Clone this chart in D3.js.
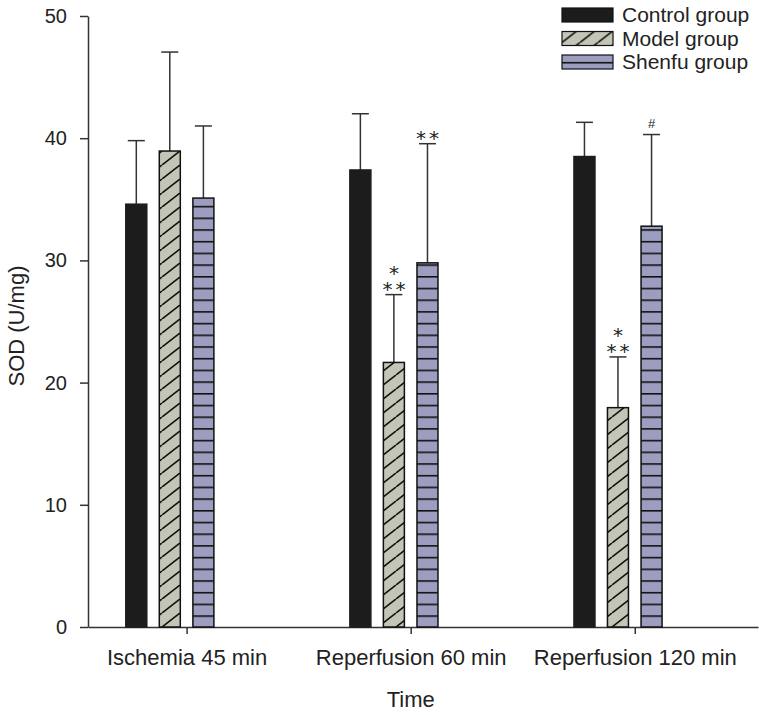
<!DOCTYPE html>
<html lang="en">
<head>
	<meta charset="utf-8">
	<script src="https://cdn.jsdelivr.net/npm/d3@7"></script>
	<style>
		body { margin: 0; background: #fff; }
		text { font-family: "Liberation Sans", Arial, sans-serif; fill: #222; }
	</style>
	<title>SOD bar chart</title>
</head>
<body>
	<script type="text/javascript">
		// data
		var timepoints = ["Ischemia 45 min", "Reperfusion 60 min", "Reperfusion 120 min"];
		var groups = ["Control group", "Model group", "Shenfu group"];
		var controlMean = [34.6, 37.4, 38.5];
		var controlSD = [5.2, 4.6, 2.8];
		var modelMean = [38.95, 21.65, 17.95];
		var modelSD = [8.1, 5.55, 4.15];
		var shenfuMean = [35.1, 29.8, 32.8];
		var shenfuSD = [5.9, 9.75, 7.5];
		var modelMarks = [[], ["*", "**"], ["*", "**"]];
		var shenfuMarks = [[], ["**"], ["#"]];
		var yTicks = [0, 10, 20, 30, 40, 50];

		var width = 759;
		var height = 715;
		// plot edges (don't call these top/left, window.top is read-only)
		var plotLeft = 88, plotRight = 758, plotTop = 16, plotBottom = 627;

		var svg = d3.select("body")
			.append("svg")
			.attr("width", width)
			.attr("height", height);

		// fill patterns
		var defs = svg.append("defs");
		var hw = 18, hh = 14;
		var hatch = defs.append("pattern")
			.attr("id", "hatch")
			.attr("patternUnits", "userSpaceOnUse")
			.attr("width", hw)
			.attr("height", hh)
			.attr("y", plotBottom);
		hatch.append("rect").attr("width", hw).attr("height", hh).attr("fill", "#c3c5b6");
		hatch.append("path")
			.attr("d", "M0," + hh + " L" + hw + ",0 M" + (-hw) + "," + hh + " L0,0 M" + hw + "," + hh + " L" + (2 * hw) + ",0")
			.attr("stroke", "#111")
			.attr("stroke-width", 1.6);

		var stripes = defs.append("pattern")
			.attr("id", "stripes")
			.attr("patternUnits", "userSpaceOnUse")
			.attr("width", 12)
			.attr("height", 11.7)
			.attr("y", plotBottom);
		stripes.append("rect").attr("width", 12).attr("height", 11.7).attr("fill", "#9d9dc0");
		stripes.append("line")
			.attr("x1", 0).attr("x2", 12)
			.attr("y1", 0.8).attr("y2", 0.8)
			.attr("stroke", "#111")
			.attr("stroke-width", 1.6);

		var fills = ["#1c1c1c", "url(#hatch)", "url(#stripes)"];
		var offsets = [-50.3, -16.8, 16.8];
		var barWidth = 21;

		// scales
		var x = d3.scaleLinear()
			.domain([-0.44, 2.55])
			.range([plotLeft, plotRight]);

		var y = d3.scaleLinear()
			.domain([0, 50])
			.range([plotBottom, plotTop]);

		// axes
		var yAxis = svg.append("g")
			.attr("transform", "translate(" + plotLeft + ",0)")
			.call(d3.axisLeft(y).tickValues(yTicks).tickSize(8).tickSizeOuter(0));
		yAxis.select(".domain").attr("stroke", "#333").attr("stroke-width", 1.5);
		yAxis.selectAll(".tick line").attr("stroke", "#333").attr("stroke-width", 1.5);
		yAxis.selectAll(".tick text")
			.attr("x", -21)
			.style("font-size", "20px")
			.style("font-family", "'Liberation Sans', Arial, sans-serif")
			.attr("fill", "#222");

		var xAxis = svg.append("g")
			.attr("transform", "translate(0," + plotBottom + ")")
			.call(d3.axisBottom(x)
				.tickValues([0, 1, 2])
				.tickFormat(function(d) { return timepoints[d]; })
				.tickSize(7)
				.tickSizeOuter(0));
		xAxis.select(".domain").attr("stroke", "#333").attr("stroke-width", 1.5);
		xAxis.selectAll(".tick line").attr("stroke", "#333").attr("stroke-width", 1.5);
		xAxis.selectAll(".tick text")
			.attr("y", 22)
			.style("font-size", "22px")
			.style("font-family", "'Liberation Sans', Arial, sans-serif")
			.attr("fill", "#222");

		// axis titles
		svg.append("text")
			.attr("x", x(1))
			.attr("y", 707)
			.attr("text-anchor", "middle")
			.style("font-size", "22px")
			.text("Time");

		svg.append("text")
			.attr("transform", "translate(24," + 326 + ") rotate(-90)")
			.attr("text-anchor", "middle")
			.style("font-size", "22px")
			.text("SOD (U/mg)");

		// bars + error bars
		var series = [
			{ mean: controlMean, sd: controlSD, marks: [[], [], []] },
			{ mean: modelMean, sd: modelSD, marks: modelMarks },
			{ mean: shenfuMean, sd: shenfuSD, marks: shenfuMarks }
		];

		series.forEach(function(s, k) {
			var g = svg.append("g");
			var rows = timepoints.map(function(t, i) {
				return { i: i, mean: s.mean[i], sd: s.sd[i], marks: s.marks[i] };
			});

			// error bars first so the bar covers the stem
			g.selectAll("line.err")
				.data(rows)
				.enter()
				.append("line")
				.attr("x1", function(d) { return x(d.i) + offsets[k]; })
				.attr("x2", function(d) { return x(d.i) + offsets[k]; })
				.attr("y1", function(d) { return y(d.mean); })
				.attr("y2", function(d) { return y(d.mean + d.sd); })
				.attr("stroke", "#333")
				.attr("stroke-width", 1.5);

			g.selectAll("line.cap")
				.data(rows)
				.enter()
				.append("line")
				.attr("x1", function(d) { return x(d.i) + offsets[k] - 8.5; })
				.attr("x2", function(d) { return x(d.i) + offsets[k] + 8.5; })
				.attr("y1", function(d) { return y(d.mean + d.sd); })
				.attr("y2", function(d) { return y(d.mean + d.sd); })
				.attr("stroke", "#333")
				.attr("stroke-width", 1.5);

			g.selectAll("rect")
				.data(rows)
				.enter()
				.append("rect")
				.attr("x", function(d) { return x(d.i) + offsets[k] - barWidth / 2; })
				.attr("y", function(d) { return y(d.mean); })
				.attr("width", barWidth)
				.attr("height", function(d) { return y(0) - y(d.mean); })
				.attr("fill", fills[k])
				.attr("stroke", k === 0 ? "#1c1c1c" : "#111")
				.attr("stroke-width", 1.5);

			// significance marks: one text per bar, lines stacked as tspans
			rows.filter(function(d) { return d.marks.length > 0; }).forEach(function(d) {
				var cx = x(d.i) + offsets[k];
				var capY = y(d.mean + d.sd);
				var isHash = d.marks[0] === "#";
				var n = d.marks.length;
				var t = svg.append("text")
					.attr("text-anchor", "middle")
					.style("font-family", isHash ? "'Liberation Sans', Arial, sans-serif" : "'DejaVu Sans', sans-serif")
					.style("font-size", isHash ? "13px" : "20px")
					.style("letter-spacing", isHash ? "0px" : "3px");
				d.marks.forEach(function(m, j) {
					t.append("tspan")
						.attr("x", cx + (isHash ? 0 : 1.5))
						.attr("y", capY + (isHash ? -7 : 1.5) - (n - 1 - j) * 16.6)
						.text(m);
				});
			});
		});

		// legend
		var legend = svg.append("g")
			.selectAll("g")
			.data(groups)
			.enter()
			.append("g")
			.attr("transform", function(d, i) {
				return "translate(562," + (8 + i * 23.5) + ")";
			});

		legend.append("rect")
			.attr("width", 51)
			.attr("height", 14)
			.attr("fill", function(d, i) { return fills[i]; })
			.attr("stroke", "#111")
			.attr("stroke-width", 1.2);

		legend.append("text")
			.attr("x", 60)
			.attr("y", 7)
			.attr("dy", ".35em")
			.style("font-size", "21px")
			.text(function(d) { return d; });
	</script>
</body>
</html>
